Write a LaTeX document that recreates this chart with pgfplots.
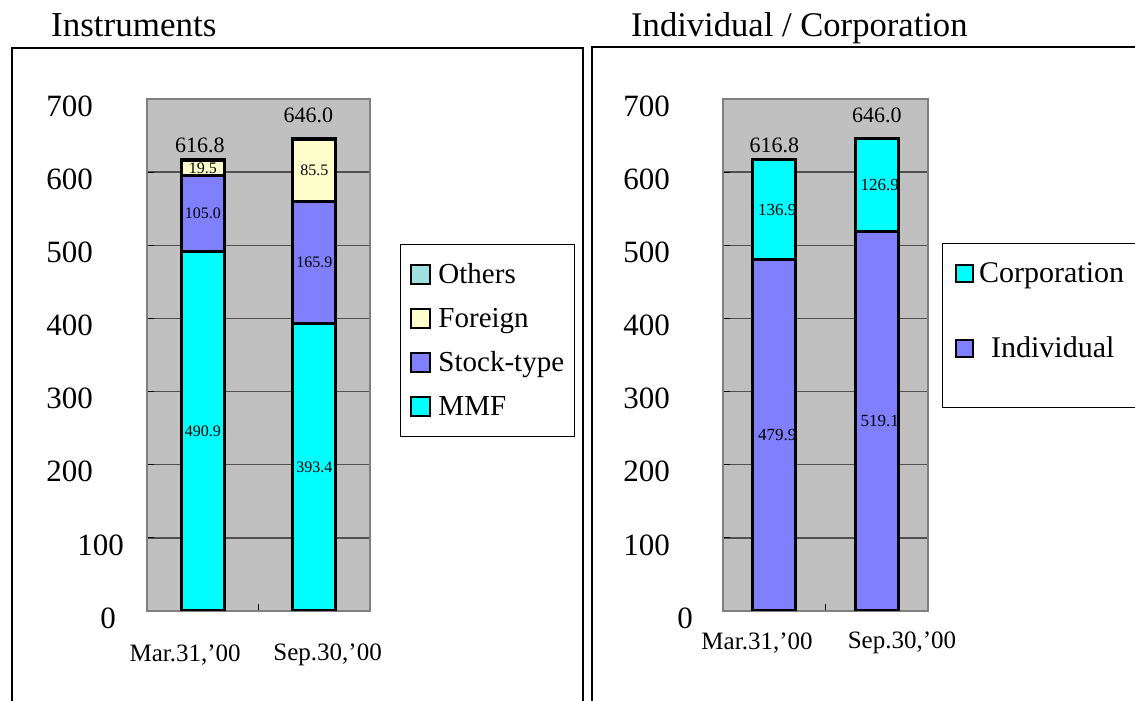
\documentclass[border=0pt]{standalone}
\usepackage{fontspec}
\setmainfont{Liberation Serif}
\usepackage{pgfplots}
\usepackage{pgfplotstable}
\pgfplotsset{compat=1.18}
\definecolor{mmf}{RGB}{0,255,255}
\definecolor{stock}{RGB}{128,128,255}
\definecolor{foreign}{RGB}{255,255,204}
\definecolor{others}{RGB}{160,224,224}
\definecolor{bggray}{RGB}{192,192,192}
\definecolor{gridgray}{RGB}{80,80,80}
\definecolor{axisgray}{RGB}{128,128,128}
\newcommand{\fs}[1]{\fontsize{#1pt}{#1pt}\selectfont}

\pgfplotstableread{
x mmf stock foreign others
0 490.9 105.0 19.5 1.4
1 393.4 165.9 85.5 1.2
}\instr
\pgfplotstableread{
x indiv corp
0 479.9 136.9
1 519.1 126.9
}\holder

\pgfplotsset{
  panel/.style={
    scale only axis, anchor=south west,
    ymin=0, ymax=700, xmin=-0.5, xmax=1.5,
    height=512pt,
    axis on top=false,
    axis background/.style={fill=bggray},
    axis line style={axisgray, line width=1.2pt},
    ymajorgrids=true, xmajorgrids=false,
    major grid style={draw=gridgray, line width=1.5pt},
    ytick={0,100,...,700},
    yticklabel style={anchor=east, inner sep=0pt, yshift=-7pt, font=\fs{31}},
    xtick={0.5}, xticklabels={},
    xtick pos=lower, ytick pos=left,
    tick align=inside, major tick length=7pt,
    tick style={black, line width=1pt},
    ybar stacked, bar width=43pt,
  },
  sqL/.style={legend image code/.code={\draw[##1, draw=black, line width=2pt] (0pt,-9.5pt) rectangle (19pt,9.5pt);}},
  sqR/.style={legend image code/.code={\draw[##1, draw=black, line width=2pt] (0pt,-8.5pt) rectangle (17pt,8.5pt);}},
  lab/.style={hide axis, scale only axis, anchor=south west,
    ymin=0, ymax=700, xmin=-0.5, xmax=1.5, height=512pt, clip=false},
  vlab/.style={mark=none, draw=none,
    nodes near coords, point meta=explicit symbolic,
    every node near coord/.append style={anchor=center, inner sep=0pt, font=\fs{#1}}},
}

\begin{document}
\begin{tikzpicture}
\useasboundingbox (0,0) rectangle (1135pt,701pt);
\clip (0,0) rectangle (1135pt,701pt);
\draw[line width=2.5pt] (12pt,-10pt) -- (12pt,653pt) -- (583pt,653pt) -- (583pt,-10pt);
\draw[line width=1.3pt] (592pt,-10pt) -- (592pt,654pt) -- (1150pt,654pt);
\node[anchor=base west, font=\fs{35}, inner sep=0pt] at (51pt,664pt) {Instruments};
\node[anchor=base west, font=\fs{34.6}, inner sep=0pt] at (631pt,664pt) {Individual / Corporation};

% ---------------- left panel ----------------
\begin{axis}[panel, at={(147pt,90pt)}, width=223pt,
  every axis plot/.append style={draw=black, line width=3pt, sqL},
  yticklabels={{0\kern31pt},{100\kern23pt},{200\kern54pt},{300\kern54pt},{400\kern54pt},{500\kern54pt},{600\kern54pt},{700\kern54pt}},
  extra x ticks={-0.158,1.12},
  extra x tick labels={{Mar.31,'00},{Sep.30,'00}},
  extra x tick style={grid=none, tick style={draw=none}, xticklabel style={anchor=center, inner sep=0pt, yshift=-44pt, font=\fs{25}}},
  reverse legend,
  legend cell align=left,
  legend style={at={(1.1345,0.7168)}, anchor=north west, draw=black, line width=1pt, fill=white,
    inner xsep=10pt, inner ysep=8pt, row sep=0pt, column sep=7pt,
    nodes={inner sep=0pt, text height=31pt, text depth=13pt, font=\fs{29}}},
]
\addplot[fill=mmf] table[x=x,y=mmf]{\instr};
\addlegendentry{MMF}
\addplot[fill=stock] table[x=x,y=stock]{\instr};
\addlegendentry{Stock-type}
\addplot[fill=foreign] table[x=x,y=foreign]{\instr};
\addlegendentry{Foreign}
\addplot[fill=others] table[x=x,y=others]{\instr};
\addlegendentry{Others}
\end{axis}
\begin{axis}[lab, at={(147pt,90pt)}, width=223pt]
\addplot[vlab=16] coordinates {(0,245.45)[490.9] (0,543.4)[105.0] (0,605.65)[19.5] (1,196.7)[393.4] (1,476.35)[165.9] (1,602.05)[85.5]};
\addplot[vlab=22, every node near coord/.append style={yshift=14.5pt, xshift=-3pt}] coordinates {(0,616.8)[616.8]};
\addplot[vlab=22, every node near coord/.append style={yshift=23pt, xshift=-6pt}] coordinates {(1,646.0)[646.0]};
\end{axis}

% ---------------- right panel ----------------
\begin{axis}[panel, at={(723pt,90pt)}, width=205pt,
  every axis plot/.append style={draw=black, line width=3pt, sqR},
  yticklabels={{0\kern30pt},{100\kern53pt},{200\kern53pt},{300\kern53pt},{400\kern53pt},{500\kern53pt},{600\kern53pt},{700\kern53pt}},
  extra x ticks={-0.168,1.246},
  extra x tick labels={{Mar.31,'00},{Sep.30,'00}},
  extra x tick style={grid=none, tick style={draw=none}, xticklabel style={anchor=center, inner sep=0pt, yshift=-32pt, font=\fs{25}}},
  reverse legend,
  legend cell align=left,
  legend style={at={(1.068,0.7168)}, anchor=north west, draw=none, fill=none,
    inner xsep=13pt, inner ysep=8pt, row sep=33pt, column sep=5pt,
    nodes={inner sep=0pt, text height=30pt, text depth=12pt, font=\fs{30}}},
]
\addplot[fill=stock] table[x=x,y=indiv]{\holder};
\addlegendentry{\hspace*{12pt}Individual}
\addplot[fill=mmf] table[x=x,y=corp]{\holder};
\addlegendentry{Corporation}
\end{axis}
\begin{axis}[lab, at={(723pt,90pt)}, width=205pt]
\addplot[vlab=17, every node near coord/.append style={xshift=3pt}] coordinates {(0,239.95)[479.9] (0,548.35)[136.9] (1,259.55)[519.1] (1,582.55)[126.9]};
\addplot[vlab=22, every node near coord/.append style={yshift=14.5pt}] coordinates {(0,616.8)[616.8]};
\addplot[vlab=22, every node near coord/.append style={yshift=23pt}] coordinates {(1,646.0)[646.0]};
\end{axis}
\draw[line width=1pt] (942pt,457pt) rectangle (1150pt,293pt);
\end{tikzpicture}
\end{document}
